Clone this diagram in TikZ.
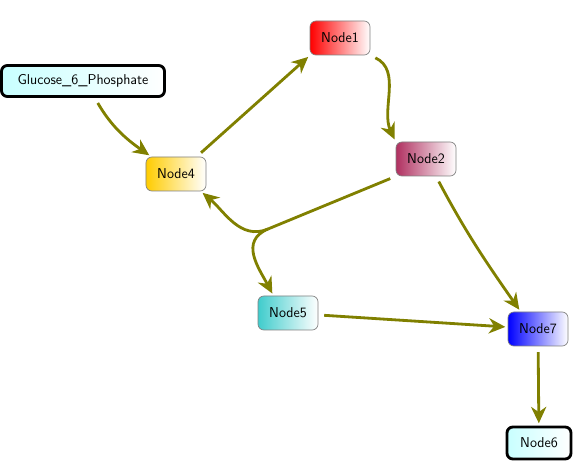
\documentclass[tikz,border=0pt]{standalone}
\usepackage{xcolor}
\usepackage{tikz}
\usetikzlibrary{arrows.meta,positioning,shapes,calc}
\definecolor{edgeolive}{RGB}{128,128,0}
\definecolor{nodered}{RGB}{255,0,0}
\definecolor{nodemaroon}{RGB}{176,48,96}
\definecolor{nodegold}{RGB}{255,204,0}
\definecolor{nodeteal}{RGB}{64,204,204}
\definecolor{nodeblue}{RGB}{0,0,255}
\definecolor{nodecyan}{RGB}{200,255,255}
\tikzset{
  % species box
  species/.style={
    draw=gray,
    line width=0.6pt,
    rounded corners=5pt,
    minimum width=1.8cm,
    minimum height=1.02cm,
    right color=white,
    font=\fontsize{12.2}{15}\selectfont\sffamily
  },
  % boundary species (thick frame)
  boundary/.style={species, draw=black, line width=2.4pt, left color=nodecyan},
  % reaction edge
  rxn/.style={edgeolive, line width=2.4pt, shorten <=5pt, shorten >=2pt},
  rxnarr/.style={rxn, -{Stealth[length=14pt,width=13pt,inset=4.5pt]}},
}
\begin{document}
\begin{tikzpicture}[x=0.03cm,y=0.03cm]
  \useasboundingbox (0,0) rectangle (578,466);

  % Species
  \node[boundary, minimum width=4.89cm, minimum height=0.93cm] (glu) at (83,385) {Glucose\_6\_Phosphate};
  \node[species, left color=nodegold] (n4) at (176,292) {Node4};
  \node[species, left color=nodered] (n1) at (340,428) {Node1};
  \node[species, left color=nodemaroon] (n2) at (426,307) {Node2};
  \node[species, left color=nodeteal] (n5) at (288,153) {Node5};
  \node[species, left color=nodeblue] (n7) at (538,137) {Node7};
  \node[boundary, minimum width=1.92cm, minimum height=0.96cm] (n6) at (539,23) {Node6};

  % branch point of Node2 reaction
  \coordinate (j) at (268,237);

  % Reactions
  \draw[rxnarr] (glu.-55) to[out=-60,in=145] (n4.145);
  \draw[rxnarr] (n4.40) -- (n1.210);
  \draw[rxnarr] (n1.-30) to[out=-25,in=115] (n2.north west);
  \draw[rxn, shorten >=0pt] (n2.south west) -- (j);
  \draw[rxnarr, shorten <=0pt] (j) to[out=203,in=-40] (n4.-35);
  \draw[rxnarr, shorten <=0pt] (j) to[out=203,in=118,looseness=1.2] (n5.130);
  \draw[rxnarr] (n2.-60) to[out=-62,in=125] (n7.135);
  \draw[rxnarr] (n5) -- (n7);
  \draw[rxnarr] (n7) -- (n6);
\end{tikzpicture}
\end{document}
